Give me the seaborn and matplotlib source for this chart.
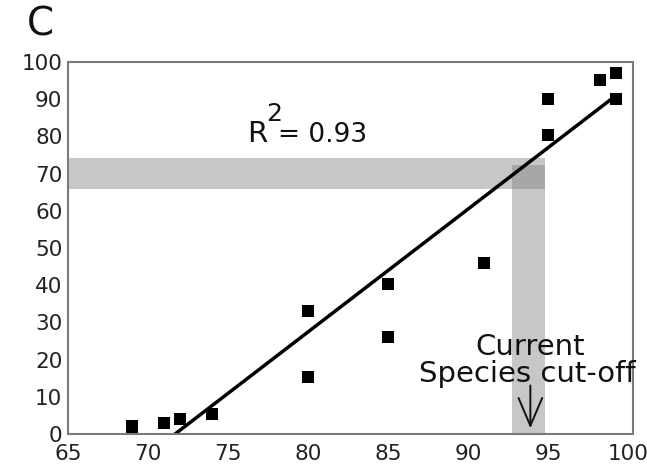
import numpy as np
import pandas as pd
import matplotlib
matplotlib.use("Agg")
import matplotlib.pyplot as plt
import seaborn as sns

# Data
identity = [69, 71, 72, 74, 80, 80, 85, 85, 91, 95, 95, 98.25, 99.25, 99.25]
percent = [2, 3, 4, 5.3, 33, 15.3, 40.3, 26, 46, 90, 80.3, 95.2, 97, 90]
x_ticks = [65, 70, 75, 80, 85, 90, 95, 100]
y_ticks = [0, 10, 20, 30, 40, 50, 60, 70, 80, 90, 100]
cutoff_band = [92.75, 94.8]      # vertical grey band (x range)
cutoff_y_band = [65.9, 74.2]     # horizontal grey band (y range)
vband_top = 72.3

df = pd.DataFrame({"identity": identity, "percent": percent})

sns.set_style("white")
plt.rcParams["font.family"] = ["DejaVu Sans"]

fig = plt.figure(figsize=(6.47, 4.68), dpi=100)
ax = fig.add_axes([0.105, 0.0726, 0.873, 0.795])

band_color = "#7b7b7b"
ax.axhspan(cutoff_y_band[0], cutoff_y_band[1], xmin=0,
           xmax=(cutoff_band[1] - 65) / (100.3 - 65),
           color=band_color, alpha=0.42, lw=0, zorder=1)
ax.fill_between(cutoff_band, [0, 0], [vband_top, vband_top],
                color=band_color, alpha=0.42, lw=0, zorder=1)

sns.regplot(data=df, x="identity", y="percent", ax=ax, ci=None,
            marker="s",
            scatter_kws=dict(s=78, color="black", edgecolor="none",
                             alpha=1, zorder=3),
            line_kws=dict(color="black", lw=2.5, zorder=2))

r2 = np.corrcoef(identity, percent)[0, 1] ** 2
tc = "#111111"
ax.text(76.2, 78.6, "R", fontsize=21, va="baseline", ha="left", color=tc)
ax.text(77.4, 84.2, "2", fontsize=18, va="baseline", ha="left", color=tc)
ax.text(78.1, 78.6, "= %.2f" % r2, fontsize=19, va="baseline",
        ha="left", color=tc)

ax.text(93.9, 23.3, "Current", fontsize=21, ha="center", va="center",
        color=tc)
ax.text(93.7, 16.1, "Species cut-off", fontsize=21, ha="center",
        va="center", color=tc)
ax.annotate("", xy=(93.9, 0.8), xytext=(93.9, 13.8),
            arrowprops=dict(arrowstyle="->,head_length=2.0,head_width=0.85",
                            color=tc, lw=1.4))

ax.set_xlim(65, 100.3)
ax.set_ylim(0, 100)
ax.set_xticks(x_ticks)
ax.set_yticks(y_ticks)
ax.set_xlabel("")
ax.set_ylabel("")
ax.tick_params(axis="both", length=0, labelsize=15.5, colors="#222222",
               pad=4)
ax.tick_params(axis="x", pad=7)
for sp in ax.spines.values():
    sp.set_visible(True)
    sp.set_color("#7a7a7a")
    sp.set_linewidth(1.5)

fig.text(40 / 647, 1 - 25 / 468, "C", fontsize=28, ha="center",
         va="center", color=tc)

fig.savefig("out.png", dpi=100)
